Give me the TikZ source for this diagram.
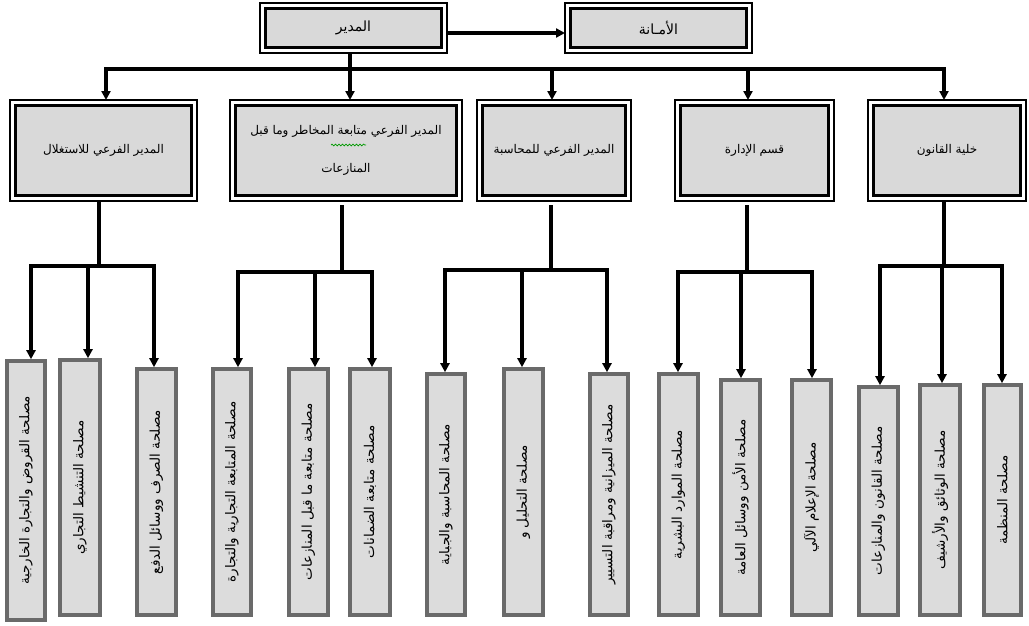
\documentclass[tikz,border=0pt]{standalone}
\usepackage{fontspec}
\usepackage{graphicx}
\newfontfamily\arabicfont[Script=Arabic]{DejaVu Sans}
\TeXXeTstate=1
\usetikzlibrary{arrows.meta,decorations.pathmorphing}
\newcommand\artxt[1]{{\arabicfont\beginR #1\endR}}
\definecolor{boxgray}{HTML}{D9D9D9}
\definecolor{leafgray}{HTML}{DCDCDC}
\definecolor{leafframe}{HTML}{6A6A6A}
\begin{document}
\begin{tikzpicture}[x=1pt,y=-1pt,
  dbox/.style={draw, line width=3pt, fill=boxgray, outer sep=5.5pt, inner sep=0pt, align=center, font=\fontsize{12}{14}\selectfont},
  topbox/.style={dbox, font=\fontsize{14}{16}\selectfont},
  frame/.style={line width=1.8pt},
  leaf/.style={draw=leafframe, line width=3.6pt, fill=leafgray, inner sep=0pt, font=\fontsize{13.5}{15}\selectfont},
  conn/.style={line width=3.2pt},
  arr/.style={line width=3.2pt, -{Triangle[length=9pt,width=9pt]}},
  arrs/.style={line width=3.2pt, line join=miter, {Triangle[length=9pt,width=9pt]}-{Triangle[length=9pt,width=9pt]}},
]
\useasboundingbox (0,0) rectangle (1029,625);
\fill[white] (0,0) rectangle (1029,625);

% top level
\node[topbox, minimum width=176pt, minimum height=39pt] (mudir) at (353.5,28) {\artxt{المدير}};
\node[topbox, minimum width=176pt, minimum height=39pt] (amana) at (658.5,28) {\artxt{الأمـانة}};

% second level
\node[dbox, minimum width=176pt, minimum height=90pt] (s1) at (103.5,150.5) {\artxt{المدير الفرعي للاستغلال}};
\node[dbox, minimum width=221pt, minimum height=90pt] (s2) at (346,150.5) {\artxt{المدير الفرعي متابعة المخاطر وما قبل}\\[24pt]\artxt{المنازعات}};
\node[dbox, minimum width=143pt, minimum height=90pt] (s3) at (554,150.5) {\artxt{المدير الفرعي للمحاسبة}};
\node[dbox, minimum width=148pt, minimum height=90pt] (s4) at (754.5,150.5) {\artxt{قسم الإدارة}};
\node[dbox, minimum width=147pt, minimum height=90pt] (s5) at (947,150.5) {\artxt{خلية القانون}};

\foreach \n in {mudir,amana,s1,s2,s3,s4,s5}
  \draw[frame] (\n.north west) rectangle (\n.south east);

% leaves
\node[leaf, minimum width=38pt, minimum height=259pt] (l1) at (26,490.5) {\rotatebox{90}{\artxt{مصلحة القروض والتجارة الخارجية}}};
\node[leaf, minimum width=40pt, minimum height=255pt] (l2) at (80,487.5) {\rotatebox{90}{\artxt{مصلحة التنشيط التجاري}}};
\node[leaf, minimum width=39pt, minimum height=246pt] (l3) at (156.5,492) {\rotatebox{90}{\artxt{مصلحة الصرف ووسائل الدفع}}};
\node[leaf, minimum width=38pt, minimum height=246pt] (l4) at (232,492) {\rotatebox{90}{\artxt{مصلحة المتابعة التجارية والتجارة}}};
\node[leaf, minimum width=39pt, minimum height=246pt] (l5) at (308.5,492) {\rotatebox{90}{\artxt{مصلحة متابعة ما قبل المنازعات}}};
\node[leaf, minimum width=40pt, minimum height=246pt] (l6) at (370,492) {\rotatebox{90}{\artxt{مصلحة متابعة الضمانات}}};
\node[leaf, minimum width=38pt, minimum height=241pt] (l7) at (446,494.5) {\rotatebox{90}{\artxt{مصلحة المحاسبة والجباية}}};
\node[leaf, minimum width=39pt, minimum height=246pt] (l8) at (523.5,492) {\rotatebox{90}{\artxt{مصلحة التحليل و}}};
\node[leaf, minimum width=38pt, minimum height=241pt] (l9) at (609,494.5) {\rotatebox{90}{\artxt{مصلحة الميزانية ومراقبة التسيير}}};
\node[leaf, minimum width=39pt, minimum height=241pt] (l10) at (678.5,494.5) {\rotatebox{90}{\artxt{مصلحة الموارد البشرية}}};
\node[leaf, minimum width=39pt, minimum height=235pt] (l11) at (740.5,497.5) {\rotatebox{90}{\artxt{مصلحة الأمن ووسائل العامة}}};
\node[leaf, minimum width=39pt, minimum height=235pt] (l12) at (811.5,497.5) {\rotatebox{90}{\artxt{مصلحة الإعلام الآلي}}};
\node[leaf, minimum width=39pt, minimum height=228pt] (l13) at (878.5,501) {\rotatebox{90}{\artxt{مصلحة القانون والمنازعات}}};
\node[leaf, minimum width=40pt, minimum height=230pt] (l14) at (940,500) {\rotatebox{90}{\artxt{مصلحة الوثائق والأرشيف}}};
\node[leaf, minimum width=37pt, minimum height=230pt] (l15) at (1002.5,500) {\rotatebox{90}{\artxt{مصلحة المنظمة}}};

% top connectors
\draw[arr] ([yshift=-5pt]mudir.east) -- ([yshift=-5pt]amana.west);
\coordinate (tL) at (106,69);
\coordinate (tJ) at (350,69);
\coordinate (t3) at (552,69);
\coordinate (t4) at (748,69);
\coordinate (tR) at (944,69);
\draw[conn] (mudir.south -| tJ) -- (tJ);
\draw[arrs] (tL |- s1.north) -- (tL) -- (tR) -- (tR |- s5.north);
\draw[arr] (tJ) -- (tJ |- s2.north);
\draw[arr] (t3) -- (t3 |- s3.north);
\draw[arr] (t4) -- (t4 |- s4.north);

% group 1
\coordinate (g1L) at (31,266); \coordinate (g1M) at (88,266); \coordinate (g1R) at (154,266); \coordinate (g1J) at (99,266);
\draw[conn] (s1.south -| g1J) -- (g1J);
\draw[arrs] (g1L |- l1.north) -- (g1L) -- (g1R) -- (g1R |- l3.north);
\draw[arr] (g1M) -- (g1M |- l2.north);
% group 2
\coordinate (g2L) at (238,272); \coordinate (g2M) at (315,272); \coordinate (g2R) at (372,272); \coordinate (g2J) at (342,272);
\draw[conn] ([yshift=-4pt]s2.south -| g2J) -- (g2J);
\draw[arrs] (g2L |- l4.north) -- (g2L) -- (g2R) -- (g2R |- l6.north);
\draw[arr] (g2M) -- (g2M |- l5.north);
% group 3
\coordinate (g3L) at (445,270); \coordinate (g3M) at (522,270); \coordinate (g3R) at (607,270); \coordinate (g3J) at (551,270);
\draw[conn] ([yshift=-4pt]s3.south -| g3J) -- (g3J);
\draw[arrs] (g3L |- l7.north) -- (g3L) -- (g3R) -- (g3R |- l9.north);
\draw[arr] (g3M) -- (g3M |- l8.north);
% group 4
\coordinate (g4L) at (678,272); \coordinate (g4M) at (741,272); \coordinate (g4R) at (812,272); \coordinate (g4J) at (747,272);
\draw[conn] ([yshift=-4pt]s4.south -| g4J) -- (g4J);
\draw[arrs] (g4L |- l10.north) -- (g4L) -- (g4R) -- (g4R |- l12.north);
\draw[arr] (g4M) -- (g4M |- l11.north);
% group 5
\coordinate (g5L) at (880,266); \coordinate (g5M) at (942,266); \coordinate (g5R) at (1002,266); \coordinate (g5J) at (944,266);
\draw[conn] (s5.south -| g5J) -- (g5J);
\draw[arrs] (g5L |- l13.north) -- (g5L) -- (g5R) -- (g5R |- l15.north);
\draw[arr] (g5M) -- (g5M |- l14.north);

% spelling squiggle
\draw[green!60!black, line width=0.7pt, decorate, decoration={snake, amplitude=0.9pt, segment length=3.5pt}] (331,145) -- (366,145);
\end{tikzpicture}
\end{document}
